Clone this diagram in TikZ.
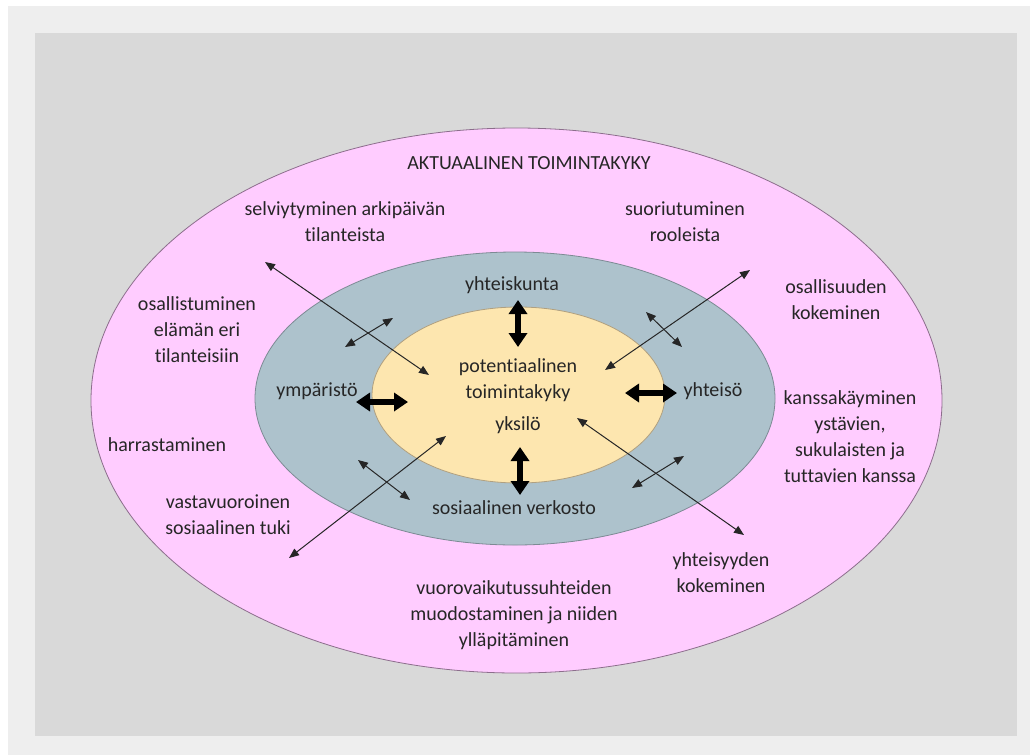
\documentclass[tikz,border=0pt]{standalone}
\usepackage{fontspec}
\setmainfont{Carlito}[Ligatures=NoCommon]
\usetikzlibrary{arrows.meta}

\definecolor{pagebg}{HTML}{EEEEEE}
\definecolor{panel}{HTML}{D9D9D9}
\definecolor{outerfill}{HTML}{FFCCFF}
\definecolor{outerline}{HTML}{8C6E8C}
\definecolor{midfill}{HTML}{ADC2CC}
\definecolor{midline}{HTML}{7D8A94}
\definecolor{innerfill}{HTML}{FDE6AF}
\definecolor{innerline}{HTML}{B0A080}
\definecolor{ink}{HTML}{262626}

\begin{document}
\begin{tikzpicture}[x=1pt,y=-1pt,
  lbl/.style={font=\fontsize{20}{26}\selectfont, text=ink, align=center, inner sep=0pt},
  linkarrow/.style={draw=ink, line width=1pt,
    {Triangle[length=10pt,width=8pt]}-{Triangle[length=10pt,width=8pt]}},
  fatarrow/.style={draw=black, line width=6pt,
    {Triangle[length=14pt,width=18pt]}-{Triangle[length=14pt,width=18pt]}},
]
\useasboundingbox (0,0) rectangle (1030,755);

% page and panel
\fill[white] (0,0) rectangle (1030,755);
\fill[pagebg] (8,6) rectangle (1030,755);
\fill[panel] (35,33) rectangle (1017,736);

% the three nested fields
\draw[outerline, fill=outerfill, line width=0.8pt]
  (516.5,400.5) ellipse [x radius=425.5pt, y radius=272.5pt];
\draw[midline, fill=midfill, line width=0.8pt]
  (515,398.5) ellipse [x radius=260pt, y radius=146.5pt];
\draw[innerline, fill=innerfill, line width=0.8pt]
  (518.5,395) ellipse [x radius=146.5pt, y radius=88pt];

% labels of the outer field
\node[lbl] (akt) at (529,163) {AKTUAALINEN TOIMINTAKYKY};
\node[lbl] (selv) at (345,222) {selviytyminen arkipäivän\\tilanteista};
\node[lbl] (suor) at (685,222) {suoriutuminen\\rooleista};
\node[lbl] (osal) at (197,330) {osallistuminen\\elämän eri\\tilanteisiin};
\node[lbl] (harr) at (167,445) {harrastaminen};
\node[lbl] (vast) at (228,515) {vastavuoroinen\\sosiaalinen tuki};
\node[lbl] (osko) at (836,300) {osallisuuden\\kokeminen};
\node[lbl] (kans) at (850,437) {kanssakäyminen\\ystävien,\\sukulaisten ja\\tuttavien kanssa};
\node[lbl] (yhko) at (721,573) {yhteisyyden\\kokeminen};
\node[lbl] (vuor) at (514,615) {vuorovaikutussuhteiden\\muodostaminen ja niiden\\ylläpitäminen};

% labels of the middle field
\node[lbl] (yhku) at (512,285) {yhteiskunta};
\node[lbl] (ymp) at (317,391) {ympäristö};
\node[lbl] (yhts) at (713,391) {yhteisö};
\node[lbl] (sosv) at (514,508) {sosiaalinen verkosto};

% labels of the inner field
\node[lbl] (pot) at (518,380) {potentiaalinen\\toimintakyky};
\node[lbl] (yks) at (518,425) {yksilö};

% end points of the connectors
\coordinate (a1) at (265,262);  \coordinate (a2) at (429,375);
\coordinate (b1) at (750,270);  \coordinate (b2) at (605,370);
\coordinate (c1) at (289,558);  \coordinate (c2) at (446,436);
\coordinate (d1) at (744,535);  \coordinate (d2) at (577,418);
\coordinate (e1) at (345,347);  \coordinate (e2) at (393,318);
\coordinate (f1) at (646,312);  \coordinate (f2) at (682,347);
\coordinate (g1) at (358,460);  \coordinate (g2) at (410,500);
\coordinate (h1) at (684,456);  \coordinate (h2) at (632,488);
\coordinate (t1) at (518,300);  \coordinate (t2) at (518,347);
\coordinate (u1) at (520,447);  \coordinate (u2) at (520,495);
\coordinate (l1) at (356,402);  \coordinate (l2) at (408,402);
\coordinate (r1) at (625,393);  \coordinate (r2) at (677,393);

% long connectors crossing the middle field
\draw[linkarrow] (a1) -- (a2);
\draw[linkarrow] (b1) -- (b2);
\draw[linkarrow] (c1) -- (c2);
\draw[linkarrow] (d1) -- (d2);

% short connectors within the middle field
\draw[linkarrow] (e1) -- (e2);
\draw[linkarrow] (f1) -- (f2);
\draw[linkarrow] (g1) -- (g2);
\draw[linkarrow] (h1) -- (h2);

% heavy two-way arrows between the individual and the surroundings
\draw[fatarrow] (t1) -- (t2);
\draw[fatarrow] (u1) -- (u2);
\draw[fatarrow] (l1) -- (l2);
\draw[fatarrow] (r1) -- (r2);
\end{tikzpicture}
\end{document}
